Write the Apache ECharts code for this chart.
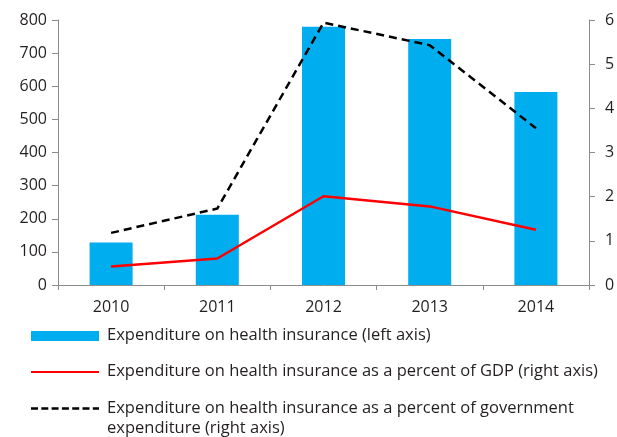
<!DOCTYPE html>
<html>
<head>
<meta charset="utf-8">
<script src="https://cdn.jsdelivr.net/npm/echarts@6/dist/echarts.min.js"></script>
<style>
  html, body { margin: 0; padding: 0; background: #fff; }
  #chart { width: 617px; height: 437px; }
</style>
</head>
<body>
<div id="chart"></div>
<script>
// Health insurance expenditure, 2010-2014
const years = ['2010', '2011', '2012', '2013', '2014'];
const expenditure = [128, 212, 780, 743, 583];          // left axis
const pctGDP = [0.42, 0.60, 2.01, 1.78, 1.25];           // right axis
const pctGovExp = [1.18, 1.73, 5.94, 5.43, 3.55];        // right axis

const legendLabels = [
  'Expenditure on health insurance (left axis)',
  'Expenditure on health insurance as a percent of GDP (right axis)',
  'Expenditure on health insurance as a percent of government\nexpenditure (right axis)'
];

const FONT = '"Open Sans", sans-serif';
const TEXT = '#231f20';
const AXIS = '#8c8c8c';
const BLUE = '#00aeef';

const chart = echarts.init(document.getElementById('chart'), null, { renderer: 'canvas' });

const axisLabel = { color: TEXT, fontFamily: FONT, fontSize: 16 };

chart.setOption({
  animation: false,
  backgroundColor: '#fff',
  grid: { left: 58, right: 28, top: 20, bottom: 152, containLabel: false, outerBoundsMode: 'none' },
  xAxis: {
    type: 'category',
    data: years,
    axisLine: { lineStyle: { color: AXIS, width: 1 } },
    axisTick: { show: true, length: 5, lineStyle: { color: AXIS } },
    axisLabel: Object.assign({ margin: 14 }, axisLabel),
    splitLine: { show: false }
  },
  yAxis: [
    {
      type: 'value', min: 0, max: 800, interval: 100,
      axisLine: { show: true, lineStyle: { color: AXIS } },
      axisTick: { show: true, length: 6, lineStyle: { color: AXIS } },
      axisLabel: Object.assign({ margin: 11 }, axisLabel),
      splitLine: { show: false }
    },
    {
      type: 'value', min: 0, max: 6, interval: 1, position: 'right',
      axisLine: { show: true, lineStyle: { color: AXIS } },
      axisTick: { show: true, length: 6, lineStyle: { color: AXIS } },
      axisLabel: Object.assign({ margin: 16 }, axisLabel),
      splitLine: { show: false }
    }
  ],
  series: [
    {
      name: legendLabels[0], type: 'bar', yAxisIndex: 0,
      data: expenditure, barWidth: 43,
      itemStyle: { color: BLUE }
    },
    {
      name: legendLabels[1], type: 'line', yAxisIndex: 1,
      data: pctGDP, symbol: 'none',
      lineStyle: { color: '#ff0000', width: 2.5 }
    },
    {
      name: legendLabels[2], type: 'line', yAxisIndex: 1,
      data: pctGovExp, symbol: 'none',
      lineStyle: { color: '#000', width: 2.5, type: [8, 5] }
    }
  ],
  graphic: [
    { type: 'rect', left: 31, top: 331, shape: { width: 68, height: 10 }, style: { fill: BLUE } },
    { type: 'line', shape: { x1: 31, y1: 372, x2: 99, y2: 372 }, style: { stroke: '#ff0000', lineWidth: 2 } },
    { type: 'line', shape: { x1: 31, y1: 408.5, x2: 99, y2: 408.5 }, style: { stroke: '#000', lineWidth: 2.5, lineDash: [7, 3.3] } },
    { type: 'text', left: 107, top: 327, style: { text: legendLabels[0], font: '16.5px ' + FONT, fill: TEXT } },
    { type: 'text', left: 107, top: 362.5, style: { text: legendLabels[1], font: '16.5px ' + FONT, fill: TEXT } },
    { type: 'text', left: 107, top: 398.5, style: { text: legendLabels[2], font: '16.5px ' + FONT, fill: TEXT, lineHeight: 20 } }
  ]
});
</script>
</body>
</html>
